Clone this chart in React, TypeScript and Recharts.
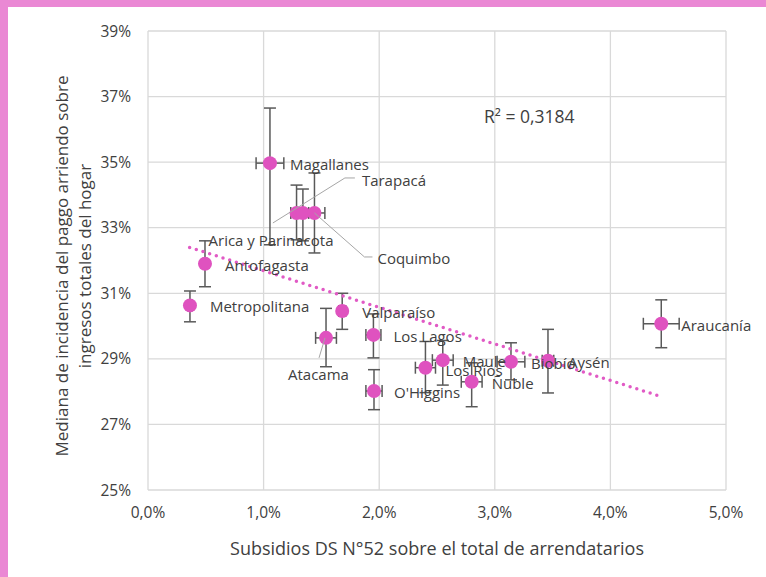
import { ScatterChart, Scatter, XAxis, YAxis, CartesianGrid, ErrorBar, ReferenceLine } from 'recharts'

const regiones = [
  'Magallanes', 'Arica y Parinacota', 'Tarapacá', 'Coquimbo', 'Antofagasta', 'Metropolitana',
  'Valparaíso', 'Atacama', 'Los Lagos', "O'Higgins", 'Los Ríos', 'Maule', 'Ñuble', 'Biobío',
  'Aysén', 'Araucanía',
]
// % de arrendatarios con subsidio DS N°52
const subsidios = [1.055, 1.285, 1.34, 1.44, 0.493, 0.363, 1.68, 1.54, 1.95, 1.955, 2.4, 2.55, 2.8, 3.14, 3.46, 4.44]
// mediana de incidencia del arriendo (%)
const incidencia = [34.97, 33.45, 33.45, 33.45, 31.9, 30.63, 30.46, 29.64, 29.73, 28.02, 28.73, 28.96, 28.3, 28.91, 28.94, 30.07]
const errSubsidio = [0.12, 0.05, 0.05, 0.09, 0.02, 0.02, 0.03, 0.09, 0.065, 0.07, 0.087, 0.09, 0.09, 0.12, 0.05, 0.155]
const errBajo = [2.49, 0.82, 0.85, 1.22, 0.7, 0.5, 0.56, 0.88, 0.7, 0.57, 0.76, 0.76, 0.76, 0.55, 0.98, 0.73]
const errAlto = [1.68, 0.85, 0.73, 1.22, 0.7, 0.44, 0.54, 0.9, 0.64, 0.65, 0.8, 0.6, 0.58, 0.58, 0.96, 0.73]

const xTicks = [0, 1, 2, 3, 4, 5]
const yTicks = [25, 27, 29, 31, 33, 35, 37, 39]

// línea de tendencia (extremos)
const tendenciaX = [0.36, 4.44]
const tendenciaY = [32.4, 27.85]
const r2 = 'R² = 0,3184'

const PINK = '#DF52BF'
const TEXT = '#404040'
const FONT = '"Open Sans", "Noto Sans", sans-serif'

// posición de etiquetas (px relativo al punto)
const labelPos: Record<string, { dx: number; dy: number; leader?: number[][] }> = {
  'Arica y Parinacota': { dx: -88, dy: 27 },
  'Tarapacá': { dx: 59, dy: -33, leader: [[-30, 10], [42, -35], [52, -35]] },
  Coquimbo: { dx: 63, dy: 45, leader: [[0, 0], [50, 44], [58, 44]] },
  Atacama: { dx: -38, dy: 36, leader: [[-1, 0], [-7, 20]] },
  'Los Ríos': { dx: 20, dy: 2 },
}

const data = regiones.map((name, i) => ({
  name,
  x: subsidios[i],
  y: incidencia[i],
  ex: errSubsidio[i],
  ey: [errBajo[i], errAlto[i]],
}))

const fmtX = (v: number) => v.toFixed(1).replace('.', ',') + '%'

function Marker(props: any) {
  const { cx, cy } = props
  if (cx == null || cy == null) return null
  return <circle cx={cx} cy={cy} r={7} fill={PINK} />
}

function Etiqueta(props: any) {
  const { cx, cy, payload } = props
  if (cx == null || cy == null) return null
  const p = labelPos[payload.name] || { dx: 20, dy: 1 }
  return (
    <g>
      {p.leader && (
        <polyline
          points={p.leader.map(([a, b]) => `${cx + a},${cy + b}`).join(' ')}
          fill="none"
          stroke="#a6a6a6"
          strokeWidth={1}
        />
      )}
      <text
        x={cx + p.dx}
        y={cy + p.dy}
        dominantBaseline="central"
        fontSize={15}
        fill={TEXT}
        fontFamily={FONT}
      >
        {payload.name}
      </text>
    </g>
  )
}

export default function App() {
  return (
    <div style={{ position: 'absolute', left: 0, top: 0, width: 766, height: 577, background: '#EA88D4' }}>
      <div
        style={{
          position: 'absolute',
          left: 8,
          top: 7,
          width: 758,
          height: 570,
          background: '#fff',
          fontFamily: FONT,
          color: TEXT,
        }}
      >
        <ScatterChart width={758} height={570} margin={{ top: 24, right: 40, bottom: 0, left: 50 }}>
          <CartesianGrid stroke="#d9d9d9" strokeWidth={1.3} />
          <XAxis
            type="number"
            dataKey="x"
            domain={[0, 5]}
            ticks={xTicks}
            tickFormatter={fmtX}
            axisLine={false}
            tickLine={false}
            tickSize={0}
            tickMargin={17}
            height={87}
            tick={{ fontSize: 15.5, fill: TEXT, fontFamily: FONT }}
          />
          <YAxis
            type="number"
            dataKey="y"
            domain={[25, 39]}
            ticks={yTicks}
            tickFormatter={(v: number) => `${v}%`}
            axisLine={false}
            tickLine={false}
            tickSize={0}
            tickMargin={17}
            width={90}
            tick={{ fontSize: 15.5, fill: TEXT, fontFamily: FONT }}
          />
          <Scatter data={data} shape={Marker} isAnimationActive={false}>
            <ErrorBar dataKey="ey" direction="y" width={6} stroke="#595959" strokeWidth={1.5} />
            <ErrorBar dataKey="ex" direction="x" width={6} stroke="#595959" strokeWidth={1.5} />
          </Scatter>
          <ReferenceLine
            segment={[
              { x: tendenciaX[0], y: tendenciaY[0] },
              { x: tendenciaX[1], y: tendenciaY[1] },
            ]}
            stroke="#E15AC5"
            strokeWidth={3.5}
            strokeDasharray="0 7"
            strokeLinecap="round"
          />
          <Scatter data={data} shape={Etiqueta} isAnimationActive={false} />
        </ScatterChart>

        <div style={{ position: 'absolute', left: 476, top: 97, fontSize: 17.5, whiteSpace: 'nowrap' }}>{r2}</div>

        <div
          style={{
            position: 'absolute',
            left: 429,
            top: 541,
            transform: 'translate(-50%, -50%)',
            fontSize: 18,
            whiteSpace: 'nowrap',
          }}
        >
          Subsidios DS N°52 sobre el total de arrendatarios
        </div>

        <div
          style={{
            position: 'absolute',
            left: 65,
            top: 259,
            width: 460,
            transform: 'translate(-50%, -50%) rotate(-90deg)',
            fontSize: 17,
            lineHeight: '23px',
            textAlign: 'center',
          }}
        >
          Mediana de incidencia del paggo arriendo sobre
          <br />
          ingresos totales del hogar
        </div>
      </div>
    </div>
  )
}
